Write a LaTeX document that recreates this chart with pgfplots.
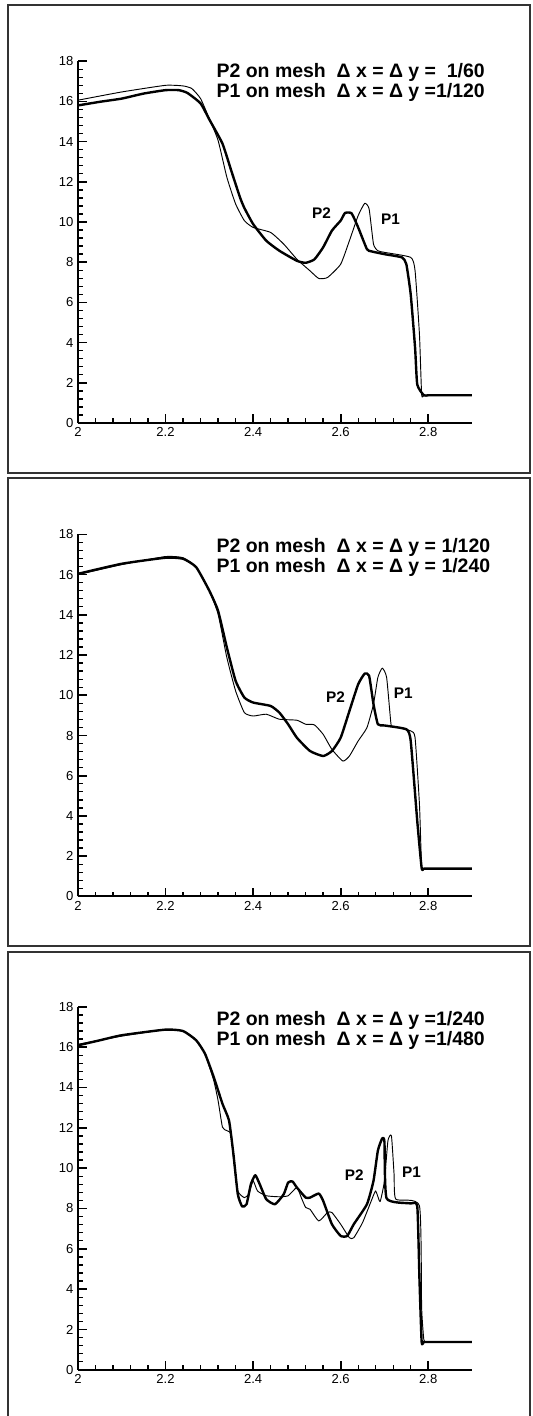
\documentclass[border=0pt]{standalone}
\usepackage{fontspec}
\setmainfont{Liberation Sans}
\usepackage{pgfplots}
\pgfplotsset{compat=1.18}

\pgfplotsset{
  panel/.style={
    scale only axis,
    width=295.5pt,
    anchor=south west,
    xmin=2, xmax=2.9, ymin=0, ymax=18,
    axis x line*=bottom, axis y line*=left,
    axis line style={line width=1.4pt},
    xtick={2,2.2,2.4,2.6,2.8},
    ytick={0,2,...,18},
    minor x tick num=4, minor y tick num=4,
    tick align=inside,
    major tick length=6.5pt, minor tick length=3.5pt,
    every major tick/.style={line width=1.3pt, black},
    every minor tick/.style={line width=1pt, black},
    tick label style={font=\fontsize{9.8}{11}\selectfont},
    /pgf/number format/assume math mode=true,
    clip=false,
  },
  p2/.style={black, line width=1.8pt, no markers, line join=round, smooth, tension=0.3},
  p1/.style={black, line width=0.7pt, no markers, line join=round, smooth, tension=0.3},
}
\tikzset{
  lab/.style={font=\bfseries\fontsize{11.5}{13}\selectfont},
  mesh/.style={anchor=west, inner sep=0pt, align=left, font=\bfseries\fontsize{14.6}{15}\selectfont},
}

\begin{document}
\begin{tikzpicture}
\useasboundingbox (0,0) rectangle (399pt,-1062pt);
\draw[line width=1.5pt, black!80] (6pt,-3.75pt) rectangle (397.5pt,-354.75pt);
\draw[line width=1.5pt, black!80] (6pt,-358.5pt) rectangle (397.5pt,-709.5pt);
\draw[line width=1.5pt, black!80] (6pt,-714pt) rectangle (397.5pt,-1075pt);

% panel 1
\begin{axis}[panel, at={(58.5pt,-317.25pt)}, height=271.35pt]
\addplot[p1] coordinates {
(2.0,16.06)(2.1,16.47)(2.2,16.8)(2.24,16.77)(2.26,16.64)(2.28,16.14)(2.3,15.14)
(2.32,14.06)(2.34,12.23)(2.36,10.9)(2.38,10.07)(2.4,9.73)(2.44,9.48)(2.47,8.9)
(2.5,8.15)(2.53,7.57)(2.55,7.19)(2.57,7.24)(2.6,7.9)(2.62,9.07)(2.64,10.32)
(2.655,10.93)(2.665,10.65)(2.675,8.9)(2.685,8.57)(2.7,8.49)(2.76,8.24)(2.77,7.57)
(2.78,4.4)(2.785,1.41)(2.79,1.38)(2.8,1.38)(2.82,1.38)(2.9,1.38)
};
\addplot[p2] coordinates {
(2.0,15.8)(2.05,15.98)(2.1,16.14)(2.15,16.39)(2.2,16.56)(2.23,16.56)(2.25,16.42)
(2.28,15.9)(2.3,15.1)(2.33,13.9)(2.35,12.56)(2.37,11.23)(2.38,10.7)(2.4,9.9)
(2.43,9.07)(2.46,8.57)(2.5,8.07)(2.52,7.97)(2.54,8.14)(2.56,8.74)(2.58,9.57)
(2.6,10.07)(2.61,10.45)(2.625,10.43)(2.64,9.73)(2.66,8.65)(2.67,8.54)(2.7,8.4)
(2.74,8.24)(2.75,7.9)(2.76,6.4)(2.77,3.74)(2.775,1.91)(2.79,1.38)(2.8,1.38)
(2.82,1.38)(2.9,1.38)
};
\node[lab] at (axis cs:2.556,10.45) {P2};
\node[lab] at (axis cs:2.714,10.15) {P1};
\node[mesh] at (axis cs:2.316,16.92) {P2 on mesh\ \ Δ x = Δ y =\ \ 1/60\\P1 on mesh\ \ Δ x = Δ y =1/120};
\end{axis}

% panel 2
\begin{axis}[panel, at={(58.5pt,-672.3pt)}, height=271.5pt]
\addplot[p1] coordinates {
(2.0,16.0)(2.1,16.5)(2.2,16.9)(2.24,16.84)(2.27,16.37)(2.3,15.2)(2.32,14.04)
(2.34,11.88)(2.36,10.22)(2.38,9.14)(2.4,8.97)(2.43,9.06)(2.46,8.81)(2.5,8.76)
(2.52,8.56)(2.54,8.53)(2.56,8.06)(2.58,7.31)(2.605,6.73)(2.62,6.98)(2.64,7.73)
(2.66,8.39)(2.675,9.56)(2.685,10.89)(2.695,11.35)(2.705,10.89)(2.715,8.56)
(2.72,8.46)(2.76,8.23)(2.77,7.89)(2.78,4.57)(2.785,1.41)(2.79,1.38)(2.8,1.38)
(2.82,1.38)(2.9,1.38)
};
\addplot[p2] coordinates {
(2.0,16.04)(2.1,16.54)(2.2,16.84)(2.24,16.79)(2.27,16.37)(2.3,15.2)(2.32,14.2)
(2.34,12.38)(2.36,10.72)(2.38,9.89)(2.4,9.64)(2.44,9.47)(2.46,9.14)(2.48,8.56)
(2.5,7.89)(2.53,7.23)(2.56,6.98)(2.58,7.23)(2.6,7.89)(2.62,9.22)(2.64,10.55)
(2.655,11.08)(2.665,10.97)(2.675,9.56)(2.685,8.56)(2.7,8.5)(2.75,8.31)(2.76,7.73)
(2.775,3.74)(2.785,1.41)(2.79,1.38)(2.8,1.38)(2.82,1.38)(2.9,1.38)
};
\node[lab] at (axis cs:2.588,9.92) {P2};
\node[lab] at (axis cs:2.743,10.09) {P1};
\node[mesh] at (axis cs:2.316,16.84) {P2 on mesh\ \ Δ x = Δ y = 1/120\\P1 on mesh\ \ Δ x = Δ y = 1/240};
\end{axis}

% panel 3
\begin{axis}[panel, at={(58.5pt,-1027.35pt)}, height=272.25pt]
\addplot[p1] coordinates {
(2.0,16.14)(2.1,16.55)(2.2,16.87)(2.24,16.8)(2.27,16.34)(2.29,15.68)(2.31,14.35)
(2.32,13.35)(2.33,12.03)(2.34,11.86)(2.35,11.7)(2.355,10.53)(2.365,8.87)(2.38,8.54)
(2.39,8.71)(2.4,9.37)(2.41,8.87)(2.43,8.63)(2.46,8.58)(2.48,8.63)(2.5,9.04)
(2.51,8.54)(2.52,8.05)(2.53,7.96)(2.55,7.38)(2.57,7.8)(2.58,7.8)(2.6,7.22)
(2.62,6.55)(2.63,6.55)(2.65,7.3)(2.67,8.38)(2.68,8.87)(2.69,8.34)(2.7,9.37)
(2.708,11.36)(2.716,11.6)(2.722,9.7)(2.726,8.46)(2.78,8.13)(2.785,3.07)(2.79,1.49)
(2.795,1.38)(2.8,1.38)(2.82,1.38)(2.9,1.38)
};
\addplot[p2] coordinates {
(2.0,16.09)(2.05,16.34)(2.1,16.59)(2.2,16.87)(2.24,16.8)(2.27,16.34)(2.29,15.68)
(2.31,14.52)(2.33,13.19)(2.345,12.36)(2.355,10.7)(2.365,8.71)(2.375,8.1)(2.385,8.21)
(2.395,9.21)(2.405,9.65)(2.415,9.21)(2.43,8.46)(2.45,8.21)(2.47,8.71)(2.48,9.29)
(2.49,9.34)(2.5,9.04)(2.52,8.54)(2.53,8.54)(2.55,8.74)(2.56,8.38)(2.58,7.22)
(2.6,6.64)(2.615,6.64)(2.63,7.22)(2.66,8.21)(2.675,9.37)(2.685,10.87)(2.695,11.48)
(2.7,11.3)(2.705,8.5)(2.76,8.25)(2.775,8.1)(2.78,4.5)(2.785,1.38)(2.79,1.38)
(2.8,1.38)(2.82,1.38)(2.9,1.38)
};
\node[lab] at (axis cs:2.631,9.65) {P2};
\node[lab] at (axis cs:2.762,9.82) {P1};
\node[mesh] at (axis cs:2.316,16.84) {P2 on mesh\ \ Δ x = Δ y =1/240\\P1 on mesh\ \ Δ x = Δ y =1/480};
\end{axis}
\end{tikzpicture}
\end{document}
